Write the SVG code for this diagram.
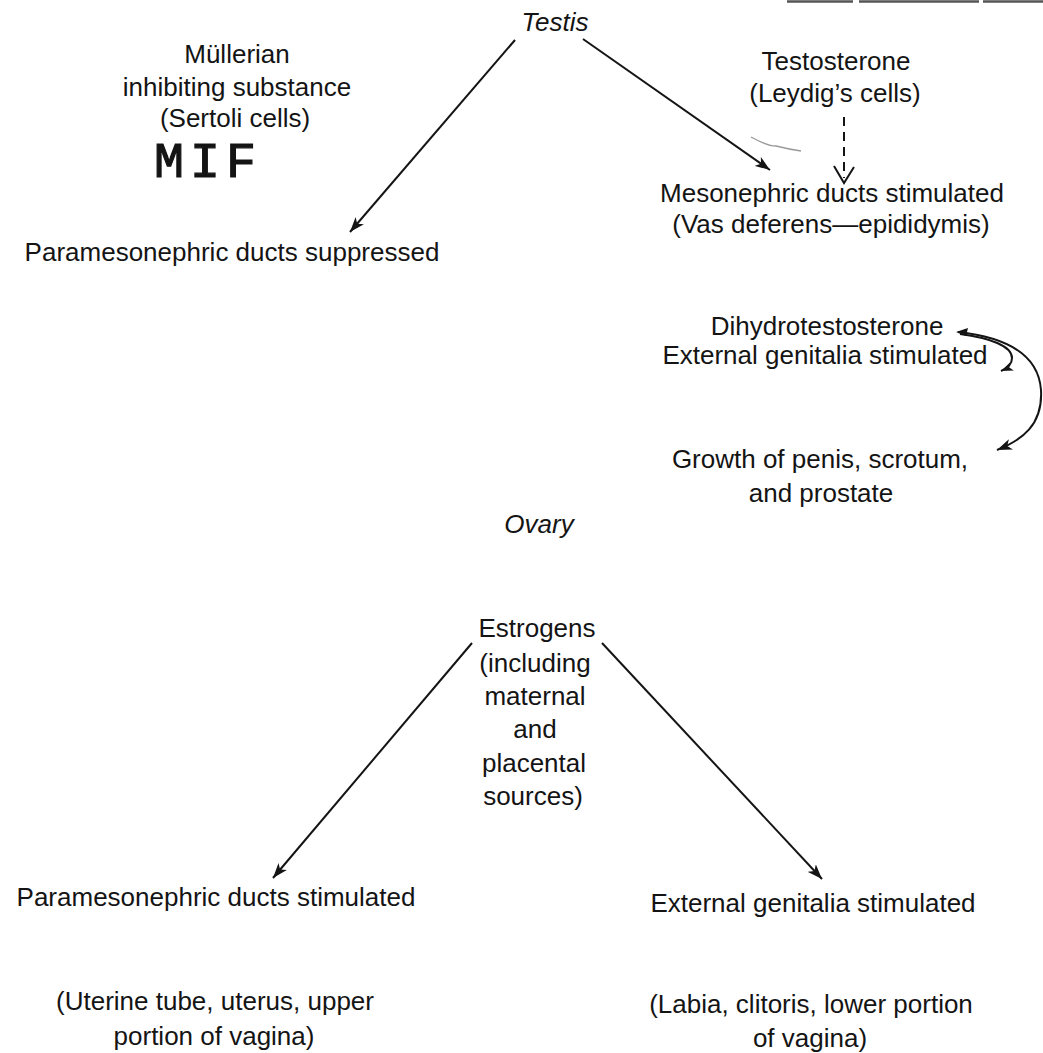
<svg xmlns="http://www.w3.org/2000/svg" width="1043" height="1053" viewBox="0 0 1043 1053">
<defs>
<style>
text{font-family:"Liberation Sans","Noto Sans",sans-serif;font-size:26px;fill:#141414;text-anchor:middle}
.it{font-style:italic}
.mif{font-family:"Liberation Mono",monospace;font-size:50px;letter-spacing:6px;text-anchor:start;stroke:#141414;stroke-width:1.2}
.ln{stroke:#141414;stroke-width:2;fill:none}
.dash{stroke:#141414;stroke-width:2;fill:none;stroke-dasharray:9 6}
.faint{stroke:#9a9a9a;stroke-width:1.3;fill:none}
</style>
<marker id="ah" markerUnits="userSpaceOnUse" markerWidth="16" markerHeight="12" refX="15" refY="6" orient="auto">
<path d="M0,0.5 L15,6 L0,11.5 L4,6 z" fill="#141414"/>
</marker>
<marker id="ahs" markerUnits="userSpaceOnUse" markerWidth="13" markerHeight="10" refX="12" refY="5" orient="auto">
<path d="M0,0.5 L12,5 L0,9.5 L3,5 z" fill="#141414"/>
</marker>
</defs>
<rect width="1043" height="1053" fill="#ffffff"/>
<line x1="787" y1="1.5" x2="1043" y2="1.5" stroke="#555" stroke-width="2.5" stroke-dasharray="66 6 120 4 80"/>

<g id="node-testis"><text class="it" x="555" y="31">Testis</text></g>
<g id="node-mis">
<text x="237" y="63">Müllerian</text>
<text x="237" y="96">inhibiting substance</text>
<text x="235" y="127">(Sertoli cells)</text>
<text class="mif" x="154" y="177">MIF</text>
</g>
<g id="node-testosterone">
<text x="836" y="70">Testosterone</text>
<text x="835" y="102">(Leydig’s cells)</text>
</g>
<g id="node-mesonephric">
<text x="832" y="202">Mesonephric ducts stimulated</text>
<text x="831" y="233">(Vas deferens—epididymis)</text>
</g>
<g id="node-para-suppressed"><text x="232" y="261">Paramesonephric ducts suppressed</text></g>
<g id="node-dht">
<text x="827" y="335">Dihydrotestosterone</text>
<text x="825" y="364">External genitalia stimulated</text>
</g>
<g id="node-growth">
<text x="820" y="468">Growth of penis, scrotum,</text>
<text x="821" y="502">and prostate</text>
</g>
<g id="node-ovary"><text class="it" x="539" y="533">Ovary</text></g>
<g id="node-estrogens">
<text x="537" y="637">Estrogens</text>
<text x="535" y="672">(including</text>
<text x="535" y="705">maternal</text>
<text x="535" y="738">and</text>
<text x="534" y="772">placental</text>
<text x="533" y="805">sources)</text>
</g>
<g id="node-para-stimulated">
<text x="216" y="906">Paramesonephric ducts stimulated</text>
</g>
<g id="note-para-stimulated">
<text x="215" y="1010">(Uterine tube, uterus, upper</text>
<text x="214" y="1045">portion of vagina)</text>
</g>
<g id="node-ext-stimulated">
<text x="813" y="912">External genitalia stimulated</text>
</g>
<g id="note-ext-stimulated">
<text x="811" y="1013">(Labia, clitoris, lower portion</text>
<text x="810" y="1047">of vagina)</text>
</g>

<g id="connectors">
<line class="ln" x1="515" y1="40" x2="350" y2="232" marker-end="url(#ah)"/>
<line class="ln" x1="583" y1="39" x2="770" y2="170" marker-end="url(#ah)"/>
<line class="dash" x1="844" y1="117" x2="844" y2="178"/>
<path class="ln" d="M834,166 L844,183 L854,167"/>
<path class="faint" d="M751,137 C760,142 768,146 776,146 C784,148 794,150 801,151"/>
<path class="ln" d="M958,332 C995,336 1038,348 1041,390 C1043,425 1022,440 997,450" marker-end="url(#ah)"/>
<path class="ln" d="M960,334 C990,338 1012,346 1012,358 C1012,364 1008,368 1001,371" marker-end="url(#ahs)"/>
<path d="M956,332 L968,328 L966,336 z" fill="#141414"/>
<line class="ln" x1="472" y1="643" x2="273" y2="878" marker-end="url(#ah)"/>
<line class="ln" x1="602" y1="643" x2="822" y2="879" marker-end="url(#ah)"/>
</g>
</svg>
